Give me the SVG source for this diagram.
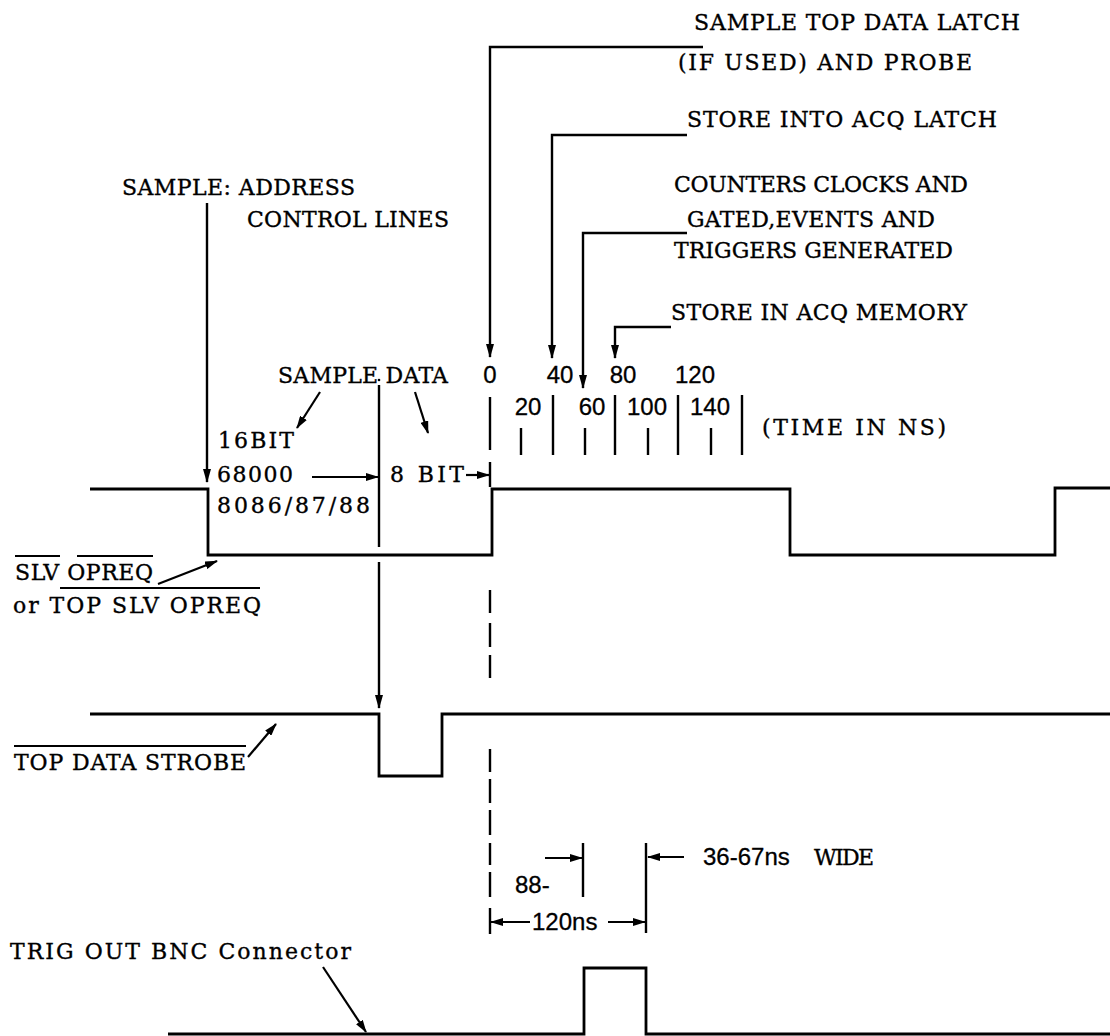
<svg xmlns="http://www.w3.org/2000/svg" width="1110" height="1036" viewBox="0 0 1110 1036">
<style>
.m{font-family:"DejaVu Serif","Liberation Serif",serif;font-size:22px;fill:#000;stroke:#000;stroke-width:0.35px}
.s{font-family:"Liberation Sans",Arial,sans-serif;font-size:24px;fill:#000;stroke:#000;stroke-width:0.3px}
.sc{text-anchor:middle}
.w{fill:none;stroke:#000;stroke-width:2.8;stroke-linejoin:miter}
.l{fill:none;stroke:#000;stroke-width:2.4}
.a{fill:none;stroke:#000;stroke-width:2.4;marker-end:url(#ah)}
.b{fill:none;stroke:#000;stroke-width:2.2;marker-end:url(#sh)}
.o{stroke:#000;stroke-width:2}
</style>
<defs>
<marker id="ah" viewBox="0 0 14 8" refX="13" refY="4" markerWidth="14" markerHeight="8" orient="auto" markerUnits="userSpaceOnUse"><path d="M0,0 L14,4 L0,8 z" fill="#000"/></marker>
<marker id="sh" viewBox="0 0 13 8" refX="12" refY="4" markerWidth="13" markerHeight="8" orient="auto" markerUnits="userSpaceOnUse"><path d="M0,0 L13,4 L0,8 z" fill="#000"/></marker>
</defs>
<rect width="1110" height="1036" fill="#fff"/>

<g id="wave-slv-opreq"><path class="w" d="M90,489 H208 V555 H492 V489 H790 V555 H1055 V488 H1110"/></g>
<g id="wave-top-data-strobe"><path class="w" d="M90,714 H379 V776 H442 V714 H1110"/></g>
<g id="wave-trig-out"><path class="w" d="M168,1034 H584 V968 H646 V1034 H1110"/></g>

<g id="label-sample-top"><text class="m" x="694" y="30" textLength="326">SAMPLE TOP DATA LATCH</text><text class="m" x="678" y="70" textLength="294">(IF USED) AND PROBE</text></g>
<g id="label-store-latch"><text class="m" x="687" y="127" textLength="310">STORE INTO ACQ LATCH</text></g>
<g id="label-counters"><text class="m" x="674" y="192" textLength="294">COUNTERS CLOCKS AND</text><text class="m" x="687" y="227" textLength="248">GATED,EVENTS AND</text><text class="m" x="674" y="258" textLength="279">TRIGGERS GENERATED</text></g>
<g id="label-store-memory"><text class="m" x="671" y="320" textLength="296">STORE IN ACQ MEMORY</text></g>
<g id="label-sample-address"><text class="m" x="122" y="195" textLength="233">SAMPLE: ADDRESS</text><text class="m" x="247" y="227" textLength="202">CONTROL LINES</text></g>
<g id="label-sample-data"><text class="m" x="278" y="383" textLength="170">SAMPLE DATA</text></g>
<g id="label-16bit"><text class="m" x="218" y="448" textLength="76">16BIT</text><text class="m" x="217" y="482" textLength="76">68000</text><text class="m" x="217" y="513" textLength="153">8086/87/88</text></g>
<g id="label-8bit"><text class="m" x="390" y="482" textLength="74">8 BIT</text></g>
<g id="label-time-scale">
<text class="s sc" x="490" y="383">0</text><text class="s sc" x="560" y="383">40</text><text class="s sc" x="623" y="383">80</text><text class="s sc" x="695" y="383">120</text>
<text class="s sc" x="528" y="415">20</text><text class="s sc" x="592" y="415">60</text><text class="s sc" x="647" y="415">100</text><text class="s sc" x="710" y="415">140</text>
<text class="m" x="762" y="435" textLength="184">(TIME IN NS)</text>
</g>
<g id="label-slv-opreq"><text class="m" x="15" y="580" textLength="138">SLV OPREQ</text><text class="m" x="13" y="613" textLength="248">or TOP SLV OPREQ</text>
<line class="o" x1="15" y1="556" x2="60" y2="556"/><line class="o" x1="77" y1="556" x2="153" y2="556"/><line class="o" x1="60" y1="588" x2="260" y2="588"/></g>
<g id="label-strobe"><text class="m" x="14" y="770" textLength="232">TOP DATA STROBE</text><line class="o" x1="14" y1="746" x2="246" y2="746"/></g>
<g id="label-trig"><text class="m" x="10" y="959" textLength="341">TRIG OUT BNC Connector</text></g>
<g id="label-width"><text class="s" x="515" y="893">88-</text><text class="s" x="532" y="930">120ns</text><text class="s" x="703" y="865">36-67ns</text><text class="m" x="814" y="865" textLength="60">WIDE</text></g>

<g id="connectors">
<path class="a" d="M703,47 H490 V357"/>
<path class="a" d="M687,135 H552 V358"/>
<path class="a" d="M687,233 H583 V388"/>
<path class="a" d="M671,327 H615 V358"/>
<path class="a" d="M207,203 V482"/>
<circle cx="379" cy="380" r="1.3" fill="#000"/>
<path class="l" d="M379,385 V547"/>
<path class="a" d="M379,562 V708"/>
<path class="l" d="M490,397 V450 M490,462 V487 M490,590 V613 M490,623 V647 M490,655 V678 M490,749 V772 M490,779 V803 M490,810 V835 M490,843 V865 M490,872 V897 M490,908 V934"/>
<path class="l" d="M553,395 V455 M615,395 V455 M678,395 V455 M742,395 V455"/>
<path class="l" d="M521,428 V455 M585,428 V455 M648,428 V455 M711,428 V455"/>
<path class="l" d="M583,843 V897 M646,843 V933"/>
<path class="b" d="M320,392 L297,428"/>
<path class="b" d="M415,392 L428,433"/>
<path class="b" d="M158,584 L217,561"/>
<path class="b" d="M248,757 L276,724"/>
<path class="b" d="M323,967 L366,1032"/>
<path class="b" d="M312,477 H378"/>
<path class="b" d="M466,475 H489"/>
<path class="b" d="M545,858 H582"/>
<path class="b" d="M684,857 H648"/>
<path class="b" d="M530,922 H491"/>
<path class="b" d="M608,922 H645"/>
</g>
</svg>
